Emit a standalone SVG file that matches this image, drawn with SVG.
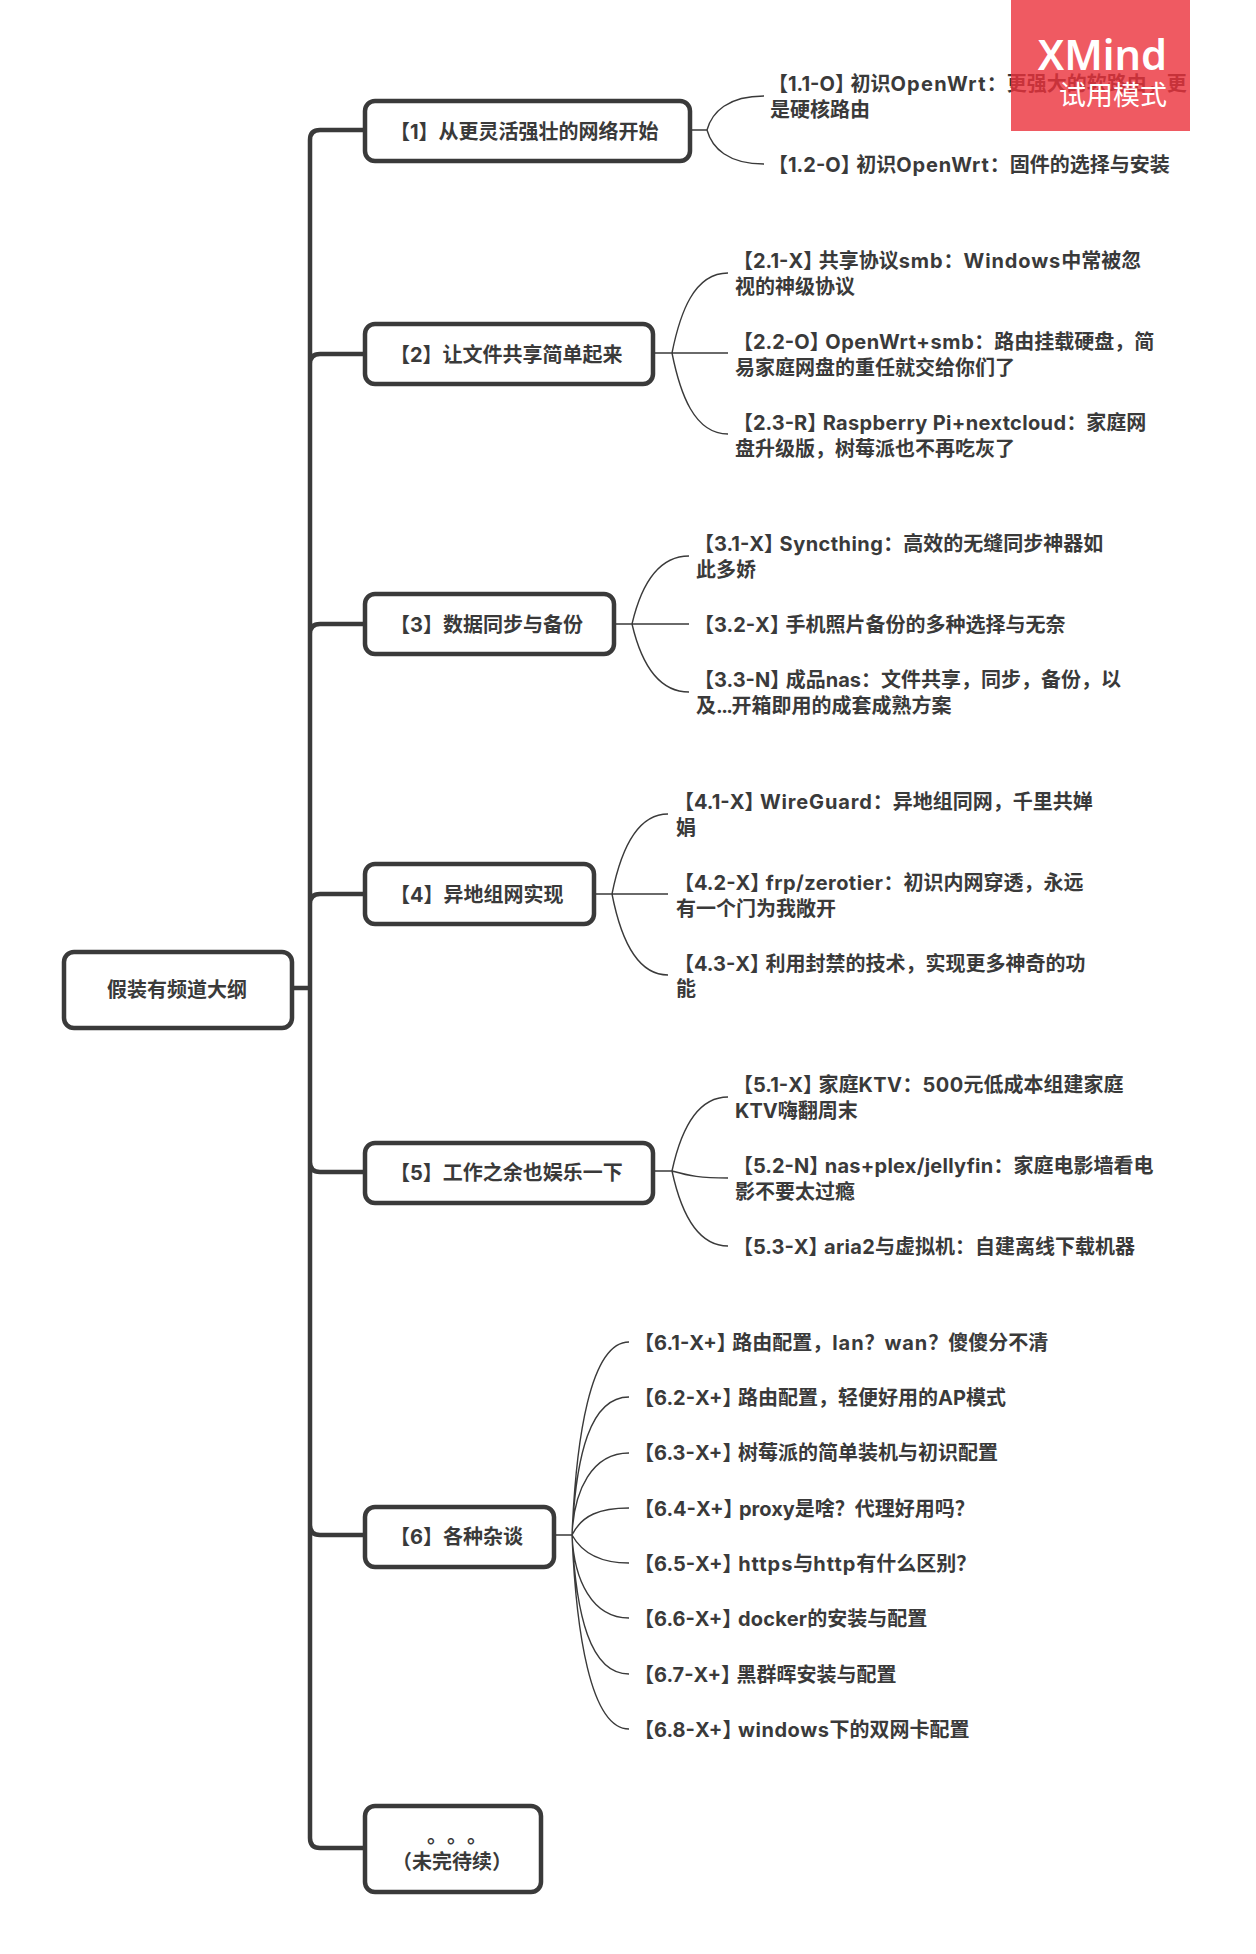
<svg xmlns="http://www.w3.org/2000/svg" width="1256" height="1954" viewBox="0 0 1256 1954">
<style>
text{font-family:"Inter","Noto Sans CJK SC",sans-serif;font-size:20px;font-weight:700;fill:#3a3a3a}
.box{fill:#fff;stroke:#3a3a3a;stroke-width:4.5}
.trunk{fill:none;stroke:#3a3a3a;stroke-width:4.5}
.twig{fill:none;stroke:#3a3a3a;stroke-width:1.4}
.mid{text-anchor:middle}
</style>
<rect width="1256" height="1954" fill="#fff"/>
<g id="connectors">
<path class="trunk" d="M292 988H310M364 130H320Q310 130 310 140V1838Q310 1848 320 1848H364M320 354H364M320 354Q310 354 310 364M320 624H364M320 624Q310 624 310 634M320 894H364M320 894Q310 894 310 904M320 1172H364M320 1172Q310 1172 310 1162M320 1535H364M320 1535Q310 1535 310 1525"/>
<path class="twig" d="M690 130H707C712 112 728 96 764 96M707 130C712 148 728 164 764 164"/>
<path class="twig" d="M653 353H728M672 353C680 313 694 273 728 273M672 353C680 393 694 434 728 434"/>
<path class="twig" d="M614 624H689M632 624C640 590 655 556 689 556M632 624C640 658 655 692 689 692"/>
<path class="twig" d="M594 894H668M612 894C620 854 635 814 668 814M612 894C620 935 635 975 668 975"/>
<path class="twig" d="M653 1171H672C690 1176 700 1178 728 1178M672 1171C680 1134 695 1097 728 1097M672 1171C680 1208 695 1246 728 1246"/>
<path class="twig" d="M554 1535H572M572 1535C576 1440 590 1342 629 1342M572 1535C576 1455 590 1397 629 1397M572 1535C574 1490 592 1453 629 1453M572 1535C582 1515 600 1508 629 1508M572 1535C582 1553 600 1563 629 1563M572 1535C574 1580 592 1618 629 1618M572 1535C576 1615 590 1674 629 1674M572 1535C576 1630 590 1729 629 1729"/>
</g>
<g id="root"><rect class="box" x="64" y="952" width="228" height="76" rx="10"/><text class="mid" x="177" y="997">假装有频道大纲</text></g>
<g id="n1"><rect class="box" x="365" y="101" width="325" height="60" rx="10"/><text x="390" y="139">【1】从更灵活强壮的网络开始</text></g>
<g id="n2"><rect class="box" x="365" y="324" width="288" height="60" rx="10"/><text x="390" y="362">【2】让文件共享简单起来</text></g>
<g id="n3"><rect class="box" x="365" y="594" width="249" height="60" rx="10"/><text x="390" y="632">【3】数据同步与备份</text></g>
<g id="n4"><rect class="box" x="365" y="864" width="229" height="60" rx="10"/><text x="390" y="902">【4】异地组网实现</text></g>
<g id="n5"><rect class="box" x="365" y="1143" width="288" height="60" rx="10"/><text x="390" y="1180">【5】工作之余也娱乐一下</text></g>
<g id="n6"><rect class="box" x="365" y="1507" width="189" height="60" rx="10"/><text x="390" y="1544">【6】各种杂谈</text></g>
<g id="n7"><rect class="box" x="365" y="1806" width="176" height="86" rx="10"/><text x="427 447 467" y="1843">。。。</text><text class="mid" x="452" y="1869">（未完待续）</text></g>
<g id="c11"><text x="768" y="91">【1.1-O】<tspan dx="-4.5">初识</tspan><tspan letter-spacing="1.3">OpenWrt</tspan>：更强大的软路由，更</text><text x="770" y="117">是硬核路由</text></g>
<g id="c12"><text x="768" y="172">【1.2-O】<tspan dx="-4.5">初识</tspan><tspan letter-spacing=".9">OpenWrt</tspan>：固件的选择与安装</text></g>
<g id="c21"><text x="733" y="268">【2.1-X】<tspan dx="-4.5">共享协议</tspan><tspan letter-spacing=".9">smb</tspan>：<tspan letter-spacing=".9">Windows</tspan>中常被忽</text><text x="735" y="294">视的神级协议</text></g>
<g id="c22"><text x="733" y="349">【2.2-O】<tspan dx="-4.5" letter-spacing=".6">OpenWrt+smb</tspan>：路由挂载硬盘，简</text><text x="735" y="375">易家庭网盘的重任就交给你们了</text></g>
<g id="c23"><text x="733" y="430">【2.3-R】<tspan dx="-4.5" letter-spacing=".35">Raspberry Pi+nextcloud</tspan>：家庭网</text><text x="735" y="456">盘升级版，树莓派也不再吃灰了</text></g>
<g id="c31"><text x="694" y="551">【3.1-X】<tspan dx="-4.5" letter-spacing=".45">Syncthing</tspan>：高效的无缝同步神器如</text><text x="696" y="577">此多娇</text></g>
<g id="c32"><text x="694" y="632">【3.2-X】<tspan dx="-4.5">手机照片备份的多种选择与无奈</tspan></text></g>
<g id="c33"><text x="694" y="687">【3.3-N】<tspan dx="-4.5">成品nas：文件共享，同步，备份，以</tspan></text><text x="696" y="713">及<tspan letter-spacing="-1.5">...</tspan>开箱即用的成套成熟方案</text></g>
<g id="c41"><text x="674" y="809">【4.1-X】<tspan dx="-4.5" letter-spacing=".85">WireGuard</tspan>：异地组同网，千里共婵</text><text x="676" y="835">娟</text></g>
<g id="c42"><text x="674" y="890">【4.2-X】<tspan dx="-4.5" letter-spacing=".45">frp/zerotier</tspan>：初识内网穿透，永远</text><text x="676" y="916">有一个门为我敞开</text></g>
<g id="c43"><text x="674" y="971">【4.3-X】<tspan dx="-4.5">利用封禁的技术，实现更多神奇的功</tspan></text><text x="676" y="996">能</text></g>
<g id="c51"><text x="733" y="1092">【5.1-X】<tspan dx="-4.5">家庭</tspan><tspan letter-spacing=".45">KTV</tspan>：<tspan letter-spacing=".45">500</tspan>元低成本组建家庭</text><text x="735" y="1118">KTV嗨翻周末</text></g>
<g id="c52"><text x="733" y="1173">【5.2-N】<tspan dx="-4.5" letter-spacing=".25">nas+plex/jellyfin</tspan>：家庭电影墙看电</text><text x="735" y="1199">影不要太过瘾</text></g>
<g id="c53"><text x="733" y="1254">【5.3-X】<tspan dx="-4.5" letter-spacing=".3">aria2</tspan>与虚拟机：自建离线下载机器</text></g>
<g id="c61"><text x="634" y="1350">【6.1-X+】<tspan dx="-4.5">路由配置，</tspan><tspan letter-spacing=".9">lan</tspan>？<tspan letter-spacing=".9">wan</tspan>？傻傻分不清</text></g>
<g id="c62"><text x="634" y="1405">【6.2-X+】<tspan dx="-4.5">路由配置，轻便好用的AP模式</tspan></text></g>
<g id="c63"><text x="634" y="1460">【6.3-X+】<tspan dx="-4.5">树莓派的简单装机与初识配置</tspan></text></g>
<g id="c64"><text x="634" y="1516">【6.4-X+】<tspan dx="-4.5">proxy是啥？代理好用吗？</tspan></text></g>
<g id="c65"><text x="634" y="1571">【6.5-X+】<tspan dx="-4.5" letter-spacing="1">https</tspan>与<tspan letter-spacing="1">http</tspan>有什么区别？</text></g>
<g id="c66"><text x="634" y="1626">【6.6-X+】<tspan dx="-4.5" letter-spacing=".25">docker</tspan>的安装与配置</text></g>
<g id="c67"><text x="634" y="1682">【6.7-X+】<tspan dx="-4.5">黑群晖安装与配置</tspan></text></g>
<g id="c68"><text x="634" y="1737">【6.8-X+】<tspan dx="-4.5" letter-spacing=".55">windows</tspan>下的双网卡配置</text></g>
<g id="watermark"><rect x="1011" y="0" width="179" height="131" fill="#eb313b" fill-opacity=".8"/><text x="1167" y="70" text-anchor="end" style="font-size:41.5px;font-weight:600;fill:#fff;font-family:'Noto Sans','Noto Sans CJK SC',sans-serif">XMind</text><text x="1167" y="105" text-anchor="end" style="font-size:27px;font-weight:400;fill:#fff">试用模式</text></g>
</svg>
